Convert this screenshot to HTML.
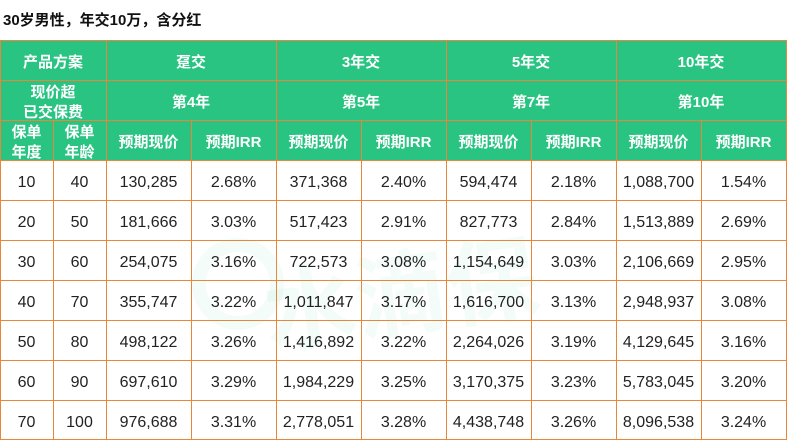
<!DOCTYPE html>
<html><head><meta charset="utf-8">
<style>
*{margin:0;padding:0;box-sizing:border-box}
html,body{width:787px;height:441px;background:#fff;overflow:hidden}
body{position:relative;font-family:"Liberation Sans","Noto Sans CJK SC",sans-serif}
.title{position:absolute;left:3px;top:11px;font-size:15px;font-weight:bold;color:#111;line-height:20px;white-space:nowrap}
.hdr{position:absolute;left:0;top:40px;width:786px;height:120px;background:#29c382}
.c{position:absolute;display:flex;align-items:center;justify-content:center;text-align:center;white-space:nowrap;padding-top:5px}
.h{color:#fff;font-weight:bold;font-size:15px;line-height:20px}
.d{color:#222;font-size:16px}
.vl{position:absolute;width:1px;background:#e8873a}
.hl{position:absolute;height:1px;background:#e8873a}
.wm{position:absolute;color:rgba(41,195,130,0.055);font-weight:bold;font-size:92px;left:262px;top:222px;transform:rotate(-8deg);font-family:"Noto Sans CJK SC",sans-serif;white-space:nowrap}
.wmc{position:absolute;left:192px;top:238px;width:92px;height:92px;border-radius:50%;border:14px solid rgba(41,195,130,0.055)}
</style></head><body>
<div class="title">30岁男性，年交10万，含分红</div>
<div class="hdr"></div>
<div class="wmc"></div>
<div class="wm">水滴保</div>

<div class="c h" style="left:0;top:40px;width:106px;height:40px">产品方案</div>
<div class="c h" style="left:106px;top:40px;width:170px;height:40px">趸交</div>
<div class="c h" style="left:276px;top:40px;width:170px;height:40px">3年交</div>
<div class="c h" style="left:446px;top:40px;width:170px;height:40px">5年交</div>
<div class="c h" style="left:616px;top:40px;width:170px;height:40px">10年交</div>

<div class="c h" style="left:0;top:80px;width:106px;height:40px">现价超<br>已交保费</div>
<div class="c h" style="left:106px;top:80px;width:170px;height:40px">第4年</div>
<div class="c h" style="left:276px;top:80px;width:170px;height:40px">第5年</div>
<div class="c h" style="left:446px;top:80px;width:170px;height:40px">第7年</div>
<div class="c h" style="left:616px;top:80px;width:170px;height:40px">第10年</div>

<div class="c h" style="left:0;top:120px;width:53px;height:40px">保单<br>年度</div>
<div class="c h" style="left:53px;top:120px;width:53px;height:40px">保单<br>年龄</div>
<div class="c h" style="left:106px;top:120px;width:85px;height:40px">预期现价</div>
<div class="c h" style="left:191px;top:120px;width:85px;height:40px">预期IRR</div>
<div class="c h" style="left:276px;top:120px;width:85px;height:40px">预期现价</div>
<div class="c h" style="left:361px;top:120px;width:85px;height:40px">预期IRR</div>
<div class="c h" style="left:446px;top:120px;width:85px;height:40px">预期现价</div>
<div class="c h" style="left:531px;top:120px;width:85px;height:40px">预期IRR</div>
<div class="c h" style="left:616px;top:120px;width:85px;height:40px">预期现价</div>
<div class="c h" style="left:701px;top:120px;width:85px;height:40px">预期IRR</div>

<div class="c d" style="left:0;top:160px;width:53px;height:40px">10</div>
<div class="c d" style="left:53px;top:160px;width:53px;height:40px">40</div>
<div class="c d" style="left:106px;top:160px;width:85px;height:40px">130,285</div>
<div class="c d" style="left:191px;top:160px;width:85px;height:40px">2.68%</div>
<div class="c d" style="left:276px;top:160px;width:85px;height:40px">371,368</div>
<div class="c d" style="left:361px;top:160px;width:85px;height:40px">2.40%</div>
<div class="c d" style="left:446px;top:160px;width:85px;height:40px">594,474</div>
<div class="c d" style="left:531px;top:160px;width:85px;height:40px">2.18%</div>
<div class="c d" style="left:616px;top:160px;width:85px;height:40px">1,088,700</div>
<div class="c d" style="left:701px;top:160px;width:85px;height:40px">1.54%</div>

<div class="c d" style="left:0;top:200px;width:53px;height:40px">20</div>
<div class="c d" style="left:53px;top:200px;width:53px;height:40px">50</div>
<div class="c d" style="left:106px;top:200px;width:85px;height:40px">181,666</div>
<div class="c d" style="left:191px;top:200px;width:85px;height:40px">3.03%</div>
<div class="c d" style="left:276px;top:200px;width:85px;height:40px">517,423</div>
<div class="c d" style="left:361px;top:200px;width:85px;height:40px">2.91%</div>
<div class="c d" style="left:446px;top:200px;width:85px;height:40px">827,773</div>
<div class="c d" style="left:531px;top:200px;width:85px;height:40px">2.84%</div>
<div class="c d" style="left:616px;top:200px;width:85px;height:40px">1,513,889</div>
<div class="c d" style="left:701px;top:200px;width:85px;height:40px">2.69%</div>

<div class="c d" style="left:0;top:240px;width:53px;height:40px">30</div>
<div class="c d" style="left:53px;top:240px;width:53px;height:40px">60</div>
<div class="c d" style="left:106px;top:240px;width:85px;height:40px">254,075</div>
<div class="c d" style="left:191px;top:240px;width:85px;height:40px">3.16%</div>
<div class="c d" style="left:276px;top:240px;width:85px;height:40px">722,573</div>
<div class="c d" style="left:361px;top:240px;width:85px;height:40px">3.08%</div>
<div class="c d" style="left:446px;top:240px;width:85px;height:40px">1,154,649</div>
<div class="c d" style="left:531px;top:240px;width:85px;height:40px">3.03%</div>
<div class="c d" style="left:616px;top:240px;width:85px;height:40px">2,106,669</div>
<div class="c d" style="left:701px;top:240px;width:85px;height:40px">2.95%</div>

<div class="c d" style="left:0;top:280px;width:53px;height:40px">40</div>
<div class="c d" style="left:53px;top:280px;width:53px;height:40px">70</div>
<div class="c d" style="left:106px;top:280px;width:85px;height:40px">355,747</div>
<div class="c d" style="left:191px;top:280px;width:85px;height:40px">3.22%</div>
<div class="c d" style="left:276px;top:280px;width:85px;height:40px">1,011,847</div>
<div class="c d" style="left:361px;top:280px;width:85px;height:40px">3.17%</div>
<div class="c d" style="left:446px;top:280px;width:85px;height:40px">1,616,700</div>
<div class="c d" style="left:531px;top:280px;width:85px;height:40px">3.13%</div>
<div class="c d" style="left:616px;top:280px;width:85px;height:40px">2,948,937</div>
<div class="c d" style="left:701px;top:280px;width:85px;height:40px">3.08%</div>

<div class="c d" style="left:0;top:320px;width:53px;height:40px">50</div>
<div class="c d" style="left:53px;top:320px;width:53px;height:40px">80</div>
<div class="c d" style="left:106px;top:320px;width:85px;height:40px">498,122</div>
<div class="c d" style="left:191px;top:320px;width:85px;height:40px">3.26%</div>
<div class="c d" style="left:276px;top:320px;width:85px;height:40px">1,416,892</div>
<div class="c d" style="left:361px;top:320px;width:85px;height:40px">3.22%</div>
<div class="c d" style="left:446px;top:320px;width:85px;height:40px">2,264,026</div>
<div class="c d" style="left:531px;top:320px;width:85px;height:40px">3.19%</div>
<div class="c d" style="left:616px;top:320px;width:85px;height:40px">4,129,645</div>
<div class="c d" style="left:701px;top:320px;width:85px;height:40px">3.16%</div>

<div class="c d" style="left:0;top:360px;width:53px;height:40px">60</div>
<div class="c d" style="left:53px;top:360px;width:53px;height:40px">90</div>
<div class="c d" style="left:106px;top:360px;width:85px;height:40px">697,610</div>
<div class="c d" style="left:191px;top:360px;width:85px;height:40px">3.29%</div>
<div class="c d" style="left:276px;top:360px;width:85px;height:40px">1,984,229</div>
<div class="c d" style="left:361px;top:360px;width:85px;height:40px">3.25%</div>
<div class="c d" style="left:446px;top:360px;width:85px;height:40px">3,170,375</div>
<div class="c d" style="left:531px;top:360px;width:85px;height:40px">3.23%</div>
<div class="c d" style="left:616px;top:360px;width:85px;height:40px">5,783,045</div>
<div class="c d" style="left:701px;top:360px;width:85px;height:40px">3.20%</div>

<div class="c d" style="left:0;top:400px;width:53px;height:40px">70</div>
<div class="c d" style="left:53px;top:400px;width:53px;height:40px">100</div>
<div class="c d" style="left:106px;top:400px;width:85px;height:40px">976,688</div>
<div class="c d" style="left:191px;top:400px;width:85px;height:40px">3.31%</div>
<div class="c d" style="left:276px;top:400px;width:85px;height:40px">2,778,051</div>
<div class="c d" style="left:361px;top:400px;width:85px;height:40px">3.28%</div>
<div class="c d" style="left:446px;top:400px;width:85px;height:40px">4,438,748</div>
<div class="c d" style="left:531px;top:400px;width:85px;height:40px">3.26%</div>
<div class="c d" style="left:616px;top:400px;width:85px;height:40px">8,096,538</div>
<div class="c d" style="left:701px;top:400px;width:85px;height:40px">3.24%</div>

<div class="hl" style="left:0;top:40px;width:787px"></div>
<div class="hl" style="left:0;top:80px;width:787px"></div>
<div class="hl" style="left:0;top:120px;width:787px"></div>
<div class="hl" style="left:0;top:160px;width:787px"></div>
<div class="hl" style="left:0;top:200px;width:787px"></div>
<div class="hl" style="left:0;top:240px;width:787px"></div>
<div class="hl" style="left:0;top:280px;width:787px"></div>
<div class="hl" style="left:0;top:320px;width:787px"></div>
<div class="hl" style="left:0;top:360px;width:787px"></div>
<div class="hl" style="left:0;top:400px;width:787px"></div>
<div class="hl" style="left:0;top:439px;width:787px"></div>

<div class="vl" style="left:0;top:40px;height:400px"></div>
<div class="vl" style="left:53px;top:120px;height:320px"></div>
<div class="vl" style="left:106px;top:40px;height:400px"></div>
<div class="vl" style="left:191px;top:120px;height:320px"></div>
<div class="vl" style="left:276px;top:40px;height:400px"></div>
<div class="vl" style="left:361px;top:120px;height:320px"></div>
<div class="vl" style="left:446px;top:40px;height:400px"></div>
<div class="vl" style="left:531px;top:120px;height:320px"></div>
<div class="vl" style="left:616px;top:40px;height:400px"></div>
<div class="vl" style="left:701px;top:120px;height:320px"></div>
<div class="vl" style="left:786px;top:40px;height:400px"></div>
</body></html>
